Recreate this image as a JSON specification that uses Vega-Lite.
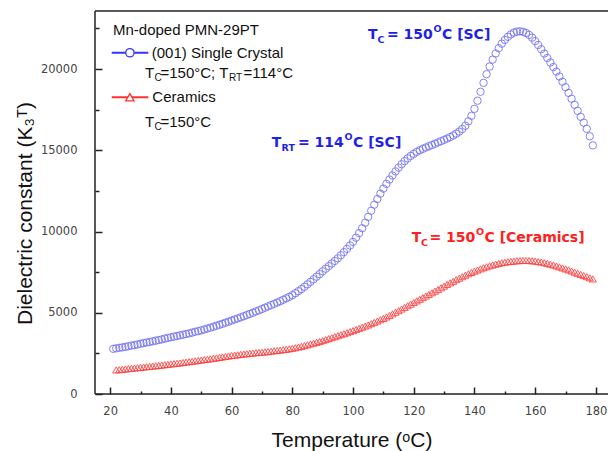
{
  "$schema": "https://vega.github.io/schema/vega-lite/v6.json",
  "width": 513,
  "height": 383,
  "autosize": {"type": "none"},
  "padding": {"left": 95, "top": 11, "right": 0, "bottom": 57},
  "background": "white",
  "config": {"view": {"stroke": null}},
  "resolve": {"axis": {"x": "independent", "y": "independent"}},
  "datasets": {
    "sc": [
      {"t":21,"k":2780},{"t":22,"k":2810},{"t":23,"k":2840},{"t":24,"k":2870},{"t":25,"k":2900},{"t":26,"k":2940},{"t":27,"k":2980},{"t":28,"k":3010},{"t":29,"k":3050},{"t":30,"k":3090},
      {"t":31,"k":3130},{"t":32,"k":3170},{"t":33,"k":3200},{"t":34,"k":3240},{"t":35,"k":3280},{"t":36,"k":3320},{"t":37,"k":3360},{"t":38,"k":3410},{"t":39,"k":3450},{"t":40,"k":3490},
      {"t":41,"k":3530},{"t":42,"k":3570},{"t":43,"k":3610},{"t":44,"k":3650},{"t":45,"k":3690},{"t":46,"k":3730},{"t":47,"k":3780},{"t":48,"k":3830},{"t":49,"k":3870},{"t":50,"k":3920},
      {"t":51,"k":3970},{"t":52,"k":4030},{"t":53,"k":4080},{"t":54,"k":4140},{"t":55,"k":4200},{"t":56,"k":4260},{"t":57,"k":4320},{"t":58,"k":4390},{"t":59,"k":4450},{"t":60,"k":4520},
      {"t":61,"k":4590},{"t":62,"k":4650},{"t":63,"k":4720},{"t":64,"k":4790},{"t":65,"k":4860},{"t":66,"k":4930},{"t":67,"k":5000},{"t":68,"k":5080},{"t":69,"k":5150},{"t":70,"k":5230},
      {"t":71,"k":5310},{"t":72,"k":5390},{"t":73,"k":5470},{"t":74,"k":5550},{"t":75,"k":5630},{"t":76,"k":5710},{"t":77,"k":5800},{"t":78,"k":5890},{"t":79,"k":5980},{"t":80,"k":6080},
      {"t":81,"k":6200},{"t":82,"k":6330},{"t":83,"k":6460},{"t":84,"k":6600},{"t":85,"k":6750},{"t":86,"k":6900},{"t":87,"k":7060},{"t":88,"k":7220},{"t":89,"k":7380},{"t":90,"k":7550},
      {"t":91,"k":7710},{"t":92,"k":7870},{"t":93,"k":8030},{"t":94,"k":8190},{"t":95,"k":8350},{"t":96,"k":8540},{"t":97,"k":8730},{"t":98,"k":8930},{"t":99,"k":9140},{"t":100,"k":9360},
      {"t":101,"k":9620},{"t":102,"k":9900},{"t":103,"k":10200},{"t":104,"k":10540},{"t":105,"k":10900},{"t":106,"k":11280},{"t":107,"k":11650},{"t":108,"k":12000},{"t":109,"k":12330},{"t":110,"k":12640},
      {"t":111,"k":12930},{"t":112,"k":13200},{"t":113,"k":13450},{"t":114,"k":13700},{"t":115,"k":13930},{"t":116,"k":14140},{"t":117,"k":14330},{"t":118,"k":14500},{"t":119,"k":14650},{"t":120,"k":14780},
      {"t":121,"k":14900},{"t":122,"k":15000},{"t":123,"k":15090},{"t":124,"k":15170},{"t":125,"k":15250},{"t":126,"k":15320},{"t":127,"k":15400},{"t":128,"k":15480},{"t":129,"k":15560},{"t":130,"k":15640},
      {"t":131,"k":15720},{"t":132,"k":15810},{"t":133,"k":15910},{"t":134,"k":16020},{"t":135,"k":16150},{"t":136,"k":16310},{"t":137,"k":16510},{"t":138,"k":16780},{"t":139,"k":17120},{"t":140,"k":17550},
      {"t":141,"k":18050},{"t":142,"k":18600},{"t":143,"k":19150},{"t":144,"k":19680},{"t":145,"k":20150},{"t":146,"k":20580},{"t":147,"k":20960},{"t":148,"k":21280},{"t":149,"k":21560},{"t":150,"k":21790},
      {"t":151,"k":21980},{"t":152,"k":22130},{"t":153,"k":22240},{"t":154,"k":22300},{"t":155,"k":22320},{"t":156,"k":22290},{"t":157,"k":22220},{"t":158,"k":22100},{"t":159,"k":21930},{"t":160,"k":21720},
      {"t":161,"k":21480},{"t":162,"k":21220},{"t":163,"k":20950},{"t":164,"k":20680},{"t":165,"k":20400},{"t":166,"k":20120},{"t":167,"k":19840},{"t":168,"k":19540},{"t":169,"k":19220},{"t":170,"k":18880},
      {"t":171,"k":18530},{"t":172,"k":18170},{"t":173,"k":17800},{"t":174,"k":17430},{"t":175,"k":17060},{"t":176,"k":16700},{"t":177,"k":16320},{"t":178,"k":15860},{"t":179,"k":15300}
    ],
    "cer": [
      {"t":22,"k":1480},{"t":23,"k":1500},{"t":24,"k":1520},{"t":25,"k":1540},{"t":26,"k":1560},{"t":27,"k":1580},{"t":28,"k":1600},{"t":29,"k":1620},{"t":30,"k":1640},
      {"t":31,"k":1660},{"t":32,"k":1680},{"t":33,"k":1700},{"t":34,"k":1720},{"t":35,"k":1740},{"t":36,"k":1760},{"t":37,"k":1780},{"t":38,"k":1800},{"t":39,"k":1820},{"t":40,"k":1850},
      {"t":41,"k":1870},{"t":42,"k":1890},{"t":43,"k":1910},{"t":44,"k":1940},{"t":45,"k":1960},{"t":46,"k":1990},{"t":47,"k":2010},{"t":48,"k":2040},{"t":49,"k":2060},{"t":50,"k":2090},
      {"t":51,"k":2120},{"t":52,"k":2140},{"t":53,"k":2170},{"t":54,"k":2200},{"t":55,"k":2220},{"t":56,"k":2250},{"t":57,"k":2280},{"t":58,"k":2310},{"t":59,"k":2340},{"t":60,"k":2370},
      {"t":61,"k":2390},{"t":62,"k":2410},{"t":63,"k":2440},{"t":64,"k":2460},{"t":65,"k":2480},{"t":66,"k":2500},{"t":67,"k":2520},{"t":68,"k":2540},{"t":69,"k":2560},{"t":70,"k":2570},
      {"t":71,"k":2590},{"t":72,"k":2610},{"t":73,"k":2630},{"t":74,"k":2660},{"t":75,"k":2680},{"t":76,"k":2700},{"t":77,"k":2730},{"t":78,"k":2750},{"t":79,"k":2780},{"t":80,"k":2810},
      {"t":81,"k":2850},{"t":82,"k":2890},{"t":83,"k":2930},{"t":84,"k":2980},{"t":85,"k":3030},{"t":86,"k":3080},{"t":87,"k":3130},{"t":88,"k":3180},{"t":89,"k":3230},{"t":90,"k":3290},
      {"t":91,"k":3350},{"t":92,"k":3410},{"t":93,"k":3470},{"t":94,"k":3530},{"t":95,"k":3590},{"t":96,"k":3650},{"t":97,"k":3710},{"t":98,"k":3770},{"t":99,"k":3840},{"t":100,"k":3900},
      {"t":101,"k":3970},{"t":102,"k":4040},{"t":103,"k":4110},{"t":104,"k":4180},{"t":105,"k":4250},{"t":106,"k":4330},{"t":107,"k":4410},{"t":108,"k":4490},{"t":109,"k":4570},{"t":110,"k":4650},
      {"t":111,"k":4740},{"t":112,"k":4830},{"t":113,"k":4930},{"t":114,"k":5030},{"t":115,"k":5130},{"t":116,"k":5230},{"t":117,"k":5330},{"t":118,"k":5430},{"t":119,"k":5530},{"t":120,"k":5630},
      {"t":121,"k":5730},{"t":122,"k":5830},{"t":123,"k":5930},{"t":124,"k":6030},{"t":125,"k":6130},{"t":126,"k":6230},{"t":127,"k":6330},{"t":128,"k":6430},{"t":129,"k":6540},{"t":130,"k":6640},
      {"t":131,"k":6740},{"t":132,"k":6840},{"t":133,"k":6940},{"t":134,"k":7040},{"t":135,"k":7130},{"t":136,"k":7220},{"t":137,"k":7310},{"t":138,"k":7400},{"t":139,"k":7480},{"t":140,"k":7560},
      {"t":141,"k":7630},{"t":142,"k":7700},{"t":143,"k":7770},{"t":144,"k":7830},{"t":145,"k":7890},{"t":146,"k":7940},{"t":147,"k":7990},{"t":148,"k":8040},{"t":149,"k":8080},{"t":150,"k":8110},
      {"t":151,"k":8140},{"t":152,"k":8160},{"t":153,"k":8180},{"t":154,"k":8200},{"t":155,"k":8210},{"t":156,"k":8220},{"t":157,"k":8220},{"t":158,"k":8210},{"t":159,"k":8200},{"t":160,"k":8180},
      {"t":161,"k":8150},{"t":162,"k":8120},{"t":163,"k":8080},{"t":164,"k":8040},{"t":165,"k":7990},{"t":166,"k":7940},{"t":167,"k":7880},{"t":168,"k":7820},{"t":169,"k":7760},{"t":170,"k":7700},
      {"t":171,"k":7640},{"t":172,"k":7570},{"t":173,"k":7500},{"t":174,"k":7430},{"t":175,"k":7360},{"t":176,"k":7290},{"t":177,"k":7220},{"t":178,"k":7150},{"t":179,"k":7080}
    ],
    "frameh": [{"k": 23570}, {"k": 0}],
    "framev": [{"t": 15}],
    "legline": [
      {"t":20.5,"t2":32.56,"k":21000,"g":"SC"},
      {"t":20.5,"t2":32.56,"k":18260,"g":"Ceramics"}
    ],
    "legtext": [
      {"t":20.93,"k":22400,"s":"Mn-doped PMN-29PT"},
      {"t":33.68,"k":21000,"s":"(001) Single Crystal"},
      {"t":33.9,"k":18260,"s":"Ceramics"},
      {"t":31.47,"k":19736,"s":"T"},
      {"t":36.58,"k":19736,"s":"=150°C; T"},
      {"t":63.92,"k":19736,"s":"=114°C"},
      {"t":31.47,"k":16757,"s":"T"},
      {"t":36.58,"k":16757,"s":"=150°C"}
    ],
    "legsub": [
      {"t":34.6,"k":19736,"s":"C"},
      {"t":59.14,"k":19736,"s":"RT"},
      {"t":34.6,"k":16757,"s":"C"}
    ],
    "ann": [
      {"t":104.94,"k":22093,"s":"T","g":"SC"},
      {"t":111.2,"k":22093,"s":"= 150","g":"SC"},
      {"t":129.31,"k":22093,"s":"C [SC]","g":"SC"},
      {"t":73.21,"k":15428,"s":"T","g":"SC"},
      {"t":81.88,"k":15428,"s":"= 114","g":"SC"},
      {"t":99.99,"k":15428,"s":"C [SC]","g":"SC"},
      {"t":119.33,"k":9582,"s":"T","g":"Ceramics"},
      {"t":125.2,"k":9582,"s":"= 150","g":"Ceramics"},
      {"t":143.32,"k":9582,"s":"C [Ceramics]","g":"Ceramics"}
    ],
    "annsub": [
      {"t":108.07,"k":22093,"s":"C","g":"SC"},
      {"t":76.44,"k":15428,"s":"RT","g":"SC"},
      {"t":122.4,"k":9582,"s":"C","g":"Ceramics"}
    ],
    "annsup": [
      {"t":126.52,"k":22093,"s":"O","g":"SC"},
      {"t":97.19,"k":15428,"s":"O","g":"SC"},
      {"t":140.52,"k":9582,"s":"O","g":"Ceramics"}
    ]
  },
  "layer": [
    {
      "data": {"name": "sc"},
      "mark": {"type": "point", "shape": "circle", "filled": false, "size": 55, "strokeWidth": 1, "color": "#6f6ff5", "opacity": 0.85},
      "encoding": {
        "x": {
          "field": "t", "type": "quantitative",
          "scale": {"domain": [15, 184], "nice": false, "zero": false},
          "axis": {
            "orient": "bottom",
            "values": [20,40,60,80,100,120,140,160,180],
            "offset": -7, "tickSize": 7,
            "tickColor": "#222", "tickWidth": 1.5,
            "domain": false,
            "grid": false,
            "labelFont": "DejaVu Sans", "labelFontSize": 11.5, "labelColor": "#444",
            "labelPadding": 11,
            "title": "Temperature (ᵒC)", "titleFont": "Liberation Sans", "titleFontSize": 21,
            "titleFontWeight": "normal", "titleColor": "#111", "titlePadding": 13
          }
        },
        "y": {
          "field": "k", "type": "quantitative",
          "scale": {"domain": [0, 23570], "nice": false},
          "axis": {
            "orient": "left",
            "values": [0,5000,10000,15000,20000],
            "format": "d",
            "offset": -7, "tickSize": 7,
            "tickColor": "#222", "tickWidth": 1.5,
            "domain": false,
            "grid": false,
            "labelFont": "DejaVu Sans", "labelFontSize": 11.5, "labelColor": "#444",
            "labelPadding": 18,
            "title": "Dielectric constant (K₃ᵀ)", "titleFont": "Liberation Sans", "titleFontSize": 21,
            "titleFontWeight": "normal", "titleColor": "#111", "titlePadding": 5, "titleY": 202
          }
        }
      }
    },
    {
      "data": {"name": "cer"},
      "mark": {"type": "point", "shape": "triangle-up", "filled": false, "size": 50, "strokeWidth": 1, "color": "#ff3b3b", "opacity": 0.85},
      "encoding": {
        "x": {
          "field": "t", "type": "quantitative",
          "axis": {
            "orient": "bottom",
            "values": [30,50,70,90,110,130,150,170],
            "offset": -3, "tickSize": 3, "tickColor": "#222", "tickWidth": 1.5,
            "domain": false, "labels": false, "grid": false, "title": null
          }
        },
        "y": {
          "field": "k", "type": "quantitative",
          "axis": {
            "orient": "left",
            "values": [2500,7500,12500,17500,22500],
            "offset": -4, "tickSize": 4, "tickColor": "#222", "tickWidth": 1.5,
            "domain": false, "labels": false, "grid": false, "title": null
          }
        }
      }
    },
    {
      "data": {"name": "frameh"},
      "mark": {"type": "rule", "color": "#222", "strokeWidth": 1.5},
      "encoding": {"y": {"field": "k", "type": "quantitative", "axis": null}}
    },
    {
      "data": {"name": "framev"},
      "mark": {"type": "rule", "color": "#222", "strokeWidth": 1.5},
      "encoding": {"x": {"field": "t", "type": "quantitative", "axis": null}}
    },
    {
      "data": {"name": "legline"},
      "mark": {"type": "rule", "strokeWidth": 2},
      "encoding": {
        "x": {"field": "t", "type": "quantitative", "axis": null},
        "x2": {"field": "t2"},
        "y": {"field": "k", "type": "quantitative", "axis": null},
        "stroke": {"field": "g", "type": "nominal", "scale": {"domain": ["SC", "Ceramics"], "range": ["#3535ff", "#ff3030"]}, "legend": null}
      }
    },
    {
      "data": {"name": "legline"},
      "mark": {"type": "point", "filled": true, "fill": "white", "size": 70, "strokeWidth": 1.3, "opacity": 1},
      "encoding": {
        "x": {"datum": 26.5, "type": "quantitative", "axis": null},
        "y": {"field": "k", "type": "quantitative", "axis": null},
        "stroke": {"field": "g", "type": "nominal", "legend": null},
        "shape": {"field": "g", "type": "nominal", "scale": {"domain": ["SC", "Ceramics"], "range": ["circle", "triangle-up"]}, "legend": null}
      }
    },
    {
      "data": {"name": "legtext"},
      "mark": {"type": "text", "align": "left", "baseline": "middle", "font": "Liberation Sans", "fontSize": 15, "color": "#111"},
      "encoding": {
        "x": {"field": "t", "type": "quantitative", "axis": null},
        "y": {"field": "k", "type": "quantitative", "axis": null},
        "text": {"field": "s"}
      }
    },
    {
      "data": {"name": "legsub"},
      "mark": {"type": "text", "align": "left", "baseline": "middle", "font": "Liberation Sans", "fontSize": 10, "color": "#111", "dy": 5},
      "encoding": {
        "x": {"field": "t", "type": "quantitative", "axis": null},
        "y": {"field": "k", "type": "quantitative", "axis": null},
        "text": {"field": "s"}
      }
    },
    {
      "data": {"name": "ann"},
      "mark": {"type": "text", "align": "left", "baseline": "middle", "font": "DejaVu Sans", "fontWeight": "bold", "fontSize": 14},
      "encoding": {
        "x": {"field": "t", "type": "quantitative", "axis": null},
        "y": {"field": "k", "type": "quantitative", "axis": null},
        "text": {"field": "s"},
        "color": {"field": "g", "type": "nominal", "scale": {"domain": ["SC", "Ceramics"], "range": ["#1f1fe8", "#ff2020"]}, "legend": null}
      }
    },
    {
      "data": {"name": "annsub"},
      "mark": {"type": "text", "align": "left", "baseline": "middle", "font": "DejaVu Sans", "fontWeight": "bold", "fontSize": 9.5, "dy": 5},
      "encoding": {
        "x": {"field": "t", "type": "quantitative", "axis": null},
        "y": {"field": "k", "type": "quantitative", "axis": null},
        "text": {"field": "s"},
        "color": {"field": "g", "type": "nominal", "legend": null}
      }
    },
    {
      "data": {"name": "annsup"},
      "mark": {"type": "text", "align": "left", "baseline": "middle", "font": "DejaVu Sans", "fontWeight": "bold", "fontSize": 9.5, "dy": -6},
      "encoding": {
        "x": {"field": "t", "type": "quantitative", "axis": null},
        "y": {"field": "k", "type": "quantitative", "axis": null},
        "text": {"field": "s"},
        "color": {"field": "g", "type": "nominal", "legend": null}
      }
    }
  ]
}
